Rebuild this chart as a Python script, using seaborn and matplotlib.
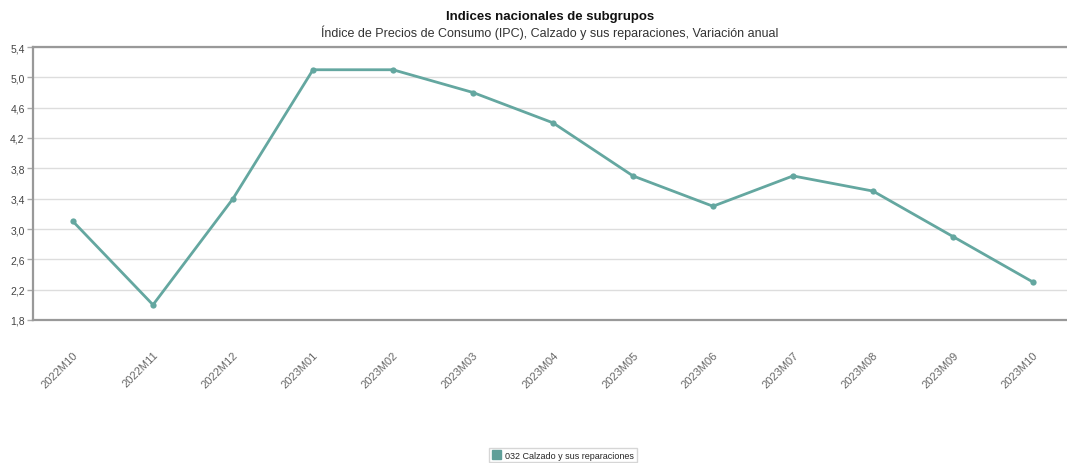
import matplotlib
matplotlib.use("Agg")
import matplotlib.pyplot as plt
import seaborn as sns
import pandas as pd
import numpy as np
from matplotlib.patches import Patch
from matplotlib.ticker import FuncFormatter, FixedLocator

periods = ["2022M10", "2022M11", "2022M12", "2023M01", "2023M02", "2023M03", "2023M04",
           "2023M05", "2023M06", "2023M07", "2023M08", "2023M09", "2023M10"]
values = [3.1, 2.0, 3.4, 5.1, 5.1, 4.8, 4.4, 3.7, 3.3, 3.7, 3.5, 2.9, 2.3]
series_name = "032 Calzado y sus reparaciones"
yticks = [1.8, 2.2, 2.6, 3.0, 3.4, 3.8, 4.2, 4.6, 5.0, 5.4]

sns.set_style("white")
plt.rcParams["font.family"] = ["Liberation Sans", "DejaVu Sans"]

color = "#64a7a0"
df = pd.DataFrame({"periodo": periods, "valor": values})

fig = plt.figure(figsize=(10.67, 4.64), dpi=100)
ax = fig.add_axes([33/1067, 1 - 321/464, 1040/1067, 273/464])

sns.lineplot(data=df, x="periodo", y="valor", ax=ax, color=color, linewidth=2,
             marker="o", markersize=4.5, markeredgewidth=0, sort=False)

ax.set_xlim(-0.5, len(periods) - 0.5)
ax.set_ylim(1.8, 5.4)
ax.set_yticks(yticks)
ax.yaxis.set_major_formatter(FuncFormatter(lambda v, p: f"{v:.1f}".replace(".", ",")))
ax.yaxis.grid(True, color="#dddddd", linewidth=1)
ax.set_axisbelow(True)
ax.set_xlabel("")
ax.set_ylabel("")

ax.set_xticks(range(len(periods)))
ax.set_xticklabels(periods, rotation=45, ha="right", rotation_mode="anchor",
                   fontsize=8, color="#666666")
ax.xaxis.set_minor_locator(FixedLocator(np.arange(-0.5, len(periods), 1.0)))
ax.tick_params(axis="x", which="major", length=0, pad=21)
ax.tick_params(axis="x", which="minor", length=3.5, color="#aaaaaa", width=1, direction="out")
ax.tick_params(axis="y", length=4, color="#aaaaaa", width=1, labelsize=7.5,
               labelcolor="#444444", pad=2, left=True)

for s in ["left", "bottom", "top"]:
    ax.spines[s].set_visible(True)
    ax.spines[s].set_color("#999999")
    ax.spines[s].set_linewidth(1.6)
ax.spines["right"].set_visible(False)

fig.text(550/1067, 1 - 17/464, "Indices nacionales de subgrupos", ha="center", va="center",
         fontsize=9.5, fontweight="bold", color="#111111")
fig.text(550/1067, 1 - 33/464,
         "Índice de Precios de Consumo (IPC), Calzado y sus reparaciones, Variación anual",
         ha="center", va="center", fontsize=9, color="#333333")

handle = Patch(facecolor="#5f9f99", edgecolor="#5f9f99")
fig.legend([handle], [series_name], loc="center", bbox_to_anchor=(563/1067, 1 - 456/464),
           fontsize=6.5, frameon=True, fancybox=False, edgecolor="#cccccc",
           handlelength=1.0, handleheight=1.0, handletextpad=0.5, borderpad=0.3)

fig.savefig("out.png", dpi=100)
